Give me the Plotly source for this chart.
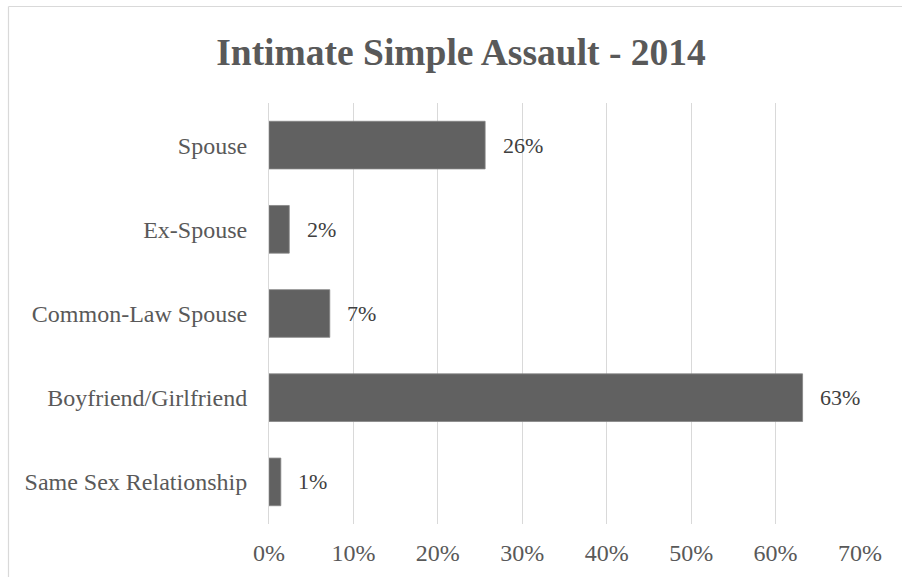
import plotly.graph_objects as go

# Share of intimate simple assault victims by relationship to offender, 2014 (%)
categories = ["Spouse", "Ex-Spouse", "Common-Law Spouse", "Boyfriend/Girlfriend", "Same Sex Relationship"]
shares = [25.6, 2.4, 7.2, 63.2, 1.4]
x_ticks = [0, 10, 20, 30, 40, 50, 60, 70]
x_tick_labels = ["0%", "10%", "20%", "30%", "40%", "50%", "60%", "70%"]

W, H = 902, 577
ML, MR, MT, MB = 269, 42, 103, 53
PW, PH = W - ML - MR, H - MT - MB

SERIF = "Liberation Serif, Times New Roman, serif"
GRID = "#d9d9d9"

fig = go.Figure(
    go.Bar(
        x=shares,
        y=categories,
        orientation="h",
        width=0.566,
        marker=dict(color="#616161", line=dict(color="#858585", width=0.8)),
        hoverinfo="skip",
    )
)

# value labels to the right of each bar
for cat, val in zip(categories, shares):
    fig.add_annotation(
        x=val, y=cat, xref="x", yref="y",
        text=f"{val:.0f}%", showarrow=False,
        xanchor="left", yanchor="middle", xshift=15.5,
        font=dict(family=SERIF, size=22, color="#404040"),
    )

# light frame around the chart area (top and left edges)
def px_to_paper_x(px):
    return (px - ML) / PW

def px_to_paper_y(py):
    return (H - MB - py) / PH

fig.add_shape(type="line", xref="paper", yref="paper",
              x0=px_to_paper_x(8.5), x1=px_to_paper_x(W + 5),
              y0=px_to_paper_y(6.5), y1=px_to_paper_y(6.5),
              line=dict(color=GRID, width=1.2))
fig.add_shape(type="line", xref="paper", yref="paper",
              x0=px_to_paper_x(8.5), x1=px_to_paper_x(8.5),
              y0=px_to_paper_y(6.5), y1=px_to_paper_y(H + 5),
              line=dict(color=GRID, width=1.2))

fig.update_layout(
    width=W, height=H,
    margin=dict(l=ML, r=MR, t=MT, b=MB, autoexpand=False),
    paper_bgcolor="white", plot_bgcolor="white",
    showlegend=False,
    title=dict(
        text="<b>Intimate Simple Assault - 2014</b>",
        x=461 / W, xref="container", xanchor="center",
        y=1 - 52 / H, yref="container", yanchor="middle",
        font=dict(family=SERIF, size=37.5, color="#595959"),
    ),
    xaxis=dict(
        range=[0, 70], tickvals=x_ticks, ticktext=x_tick_labels,
        showgrid=True, gridcolor=GRID, gridwidth=1,
        zeroline=False, showline=False, ticks="",
        ticklabelstandoff=12,
        tickfont=dict(family=SERIF, size=24, color="#595959"),
    ),
    yaxis=dict(
        categoryorder="array", categoryarray=categories,
        autorange="reversed",
        showgrid=False, zeroline=False, ticks="",
        showline=True, linecolor=GRID, linewidth=1,
        ticklabelstandoff=16,
        tickfont=dict(family=SERIF, size=24, color="#595959"),
    ),
)

fig.write_html("out.html")
